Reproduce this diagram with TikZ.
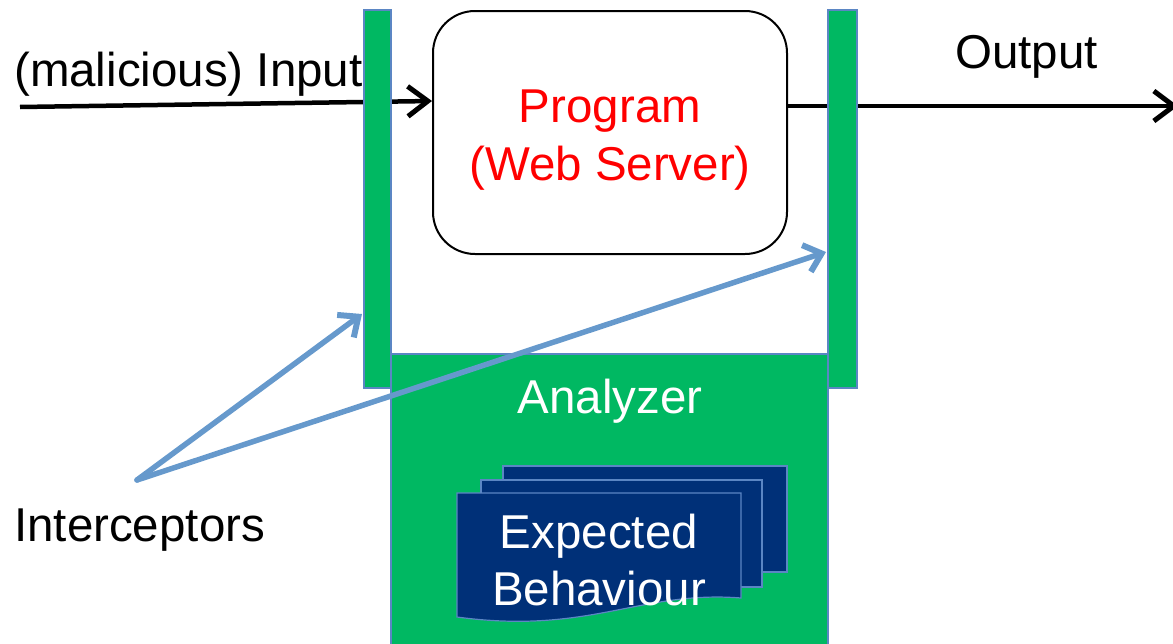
\documentclass[tikz,border=0pt]{standalone}
\usepackage{fontspec}
\setmainfont{Liberation Sans}
\usetikzlibrary{arrows.meta}
\definecolor{barGreen}{HTML}{00B862}
\definecolor{edgeBlue}{HTML}{5B86C4}
\definecolor{pointerBlue}{HTML}{6699CC}
\definecolor{docBlue}{HTML}{003078}
\definecolor{progRed}{HTML}{FF0000}
\tikzset{
  big/.style={font=\fontsize{47.5}{57}\selectfont, inner sep=0pt},
  flow/.style={line width=4.5pt, -{Straight Barb[length=20pt,width=30pt,line width=5pt]}},
  pointer/.style={pointerBlue, line width=5.5pt, line cap=round,
    -{Straight Barb[length=16pt,width=28pt,line width=6pt]}},
  greenbox/.style={fill=barGreen, draw=edgeBlue, line width=1.2pt},
  sheet/.style={fill=docBlue, draw=edgeBlue, line width=1.2pt},
}
\begin{document}
\begin{tikzpicture}[x=1pt,y=-1pt]
\useasboundingbox (0,0) rectangle (1173,643);

% analyzer block at the bottom
\path[greenbox] (391,354) rectangle (828,645);
\node[big, white, anchor=base] (analyzer) at (610,413) {Analyzer};

% stacked document sheets
\path[sheet] (503,466) rectangle (787,572);
\path[sheet] (481,480) rectangle (762,587);
\path[sheet] (457,493) -- (741,493) -- (741,598)
  .. controls (640,590) and (590,635) .. (457,617) -- cycle;
\node[big, white, anchor=base] (exp1) at (599,548) {Expected};
\node[big, white, anchor=base] (exp2) at (599,605) {Behaviour};

% program box
\node[draw=black, line width=2pt, fill=white, rounded corners=42pt,
      minimum width=354pt, minimum height=243pt, anchor=north west]
      (prog) at (432,10) {};
\node[big, progRed, anchor=base] (progA) at (610,122) {Program};
\node[big, progRed, anchor=base] (progB) at (610,180) {(Web Server)};

% input and output flow
\coordinate (inStart) at (20,107);
\coordinate (inEnd) at (432,101);
\coordinate (outStart) at (786,106);
\coordinate (outEnd) at (1178,106);
\draw[flow] (inStart) -- (inEnd);
\draw[flow] (outStart) -- (outEnd);

% interceptor bars
\path[greenbox] (364,10) rectangle (391,388);
\path[greenbox] (828,10) rectangle (857,388);

% labels
\node[big, anchor=base west] (inLabel) at (14,86) {(malicious) Input};
\node[big, anchor=base west] (outLabel) at (955,68) {Output};
\node[big, anchor=base west] (intLabel) at (14,541) {Interceptors};

% pointers to the interceptors
\coordinate (src) at (137,480);
\coordinate (leftTip) at (362,314);
\coordinate (rightTip) at (826,252);
\draw[pointer] (src) -- (leftTip);
\draw[pointer] (src) -- (rightTip);
\end{tikzpicture}
\end{document}
